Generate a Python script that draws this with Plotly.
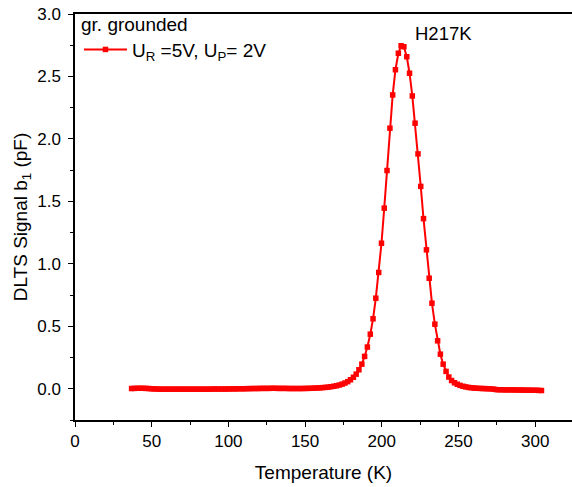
import plotly.graph_objects as go

temperature_K = [
    36.9, 38.7, 40.6, 42.4, 44.2, 46.1, 47.9, 49.7, 51.5, 53.4,
    55.2, 57.0, 58.9, 60.7, 62.5, 64.4, 66.2, 68.0, 69.8, 71.7,
    73.5, 75.3, 77.2, 79.0, 80.8, 82.7, 84.5, 86.3, 88.1, 90.0,
    91.8, 93.6, 95.5, 97.3, 99.1, 100.9, 102.8, 104.6, 106.4, 108.3,
    110.1, 111.9, 113.8, 115.6, 117.4, 119.3, 121.1, 122.9, 124.7, 126.6,
    128.4, 130.2, 132.1, 133.9, 135.7, 137.6, 139.4, 141.2, 143.0, 144.9,
    146.7, 148.5, 150.4, 152.2, 154.0, 155.9, 157.7, 159.5, 161.3, 163.2,
    165.0, 166.8, 168.7, 170.5, 172.3, 174.2, 176.0, 177.8, 179.6, 181.5,
    183.3, 185.1, 187.0, 188.8, 190.6, 192.5, 194.3, 196.1, 198.0, 199.8,
    201.6, 203.4, 205.3, 207.1, 208.9, 210.8, 212.6, 214.4, 216.3, 218.1,
    219.9, 221.7, 223.6, 225.4, 227.2, 229.1, 230.9, 232.7, 234.6, 236.4,
    238.2, 240.0, 241.9, 243.7, 245.5, 247.4, 249.2, 251.0, 252.9, 254.7,
    256.5, 258.3, 260.2, 262.0, 263.8, 265.7, 267.5, 269.3, 271.2, 273.0,
    274.8, 276.6, 278.5, 280.3, 282.1, 284.0, 285.8, 287.6, 289.5, 291.3,
    293.1, 294.9, 296.8, 298.6, 300.4, 302.3, 304.1,
]

signal_pF = [
    0.002, 0.003, 0.004, 0.004, 0.004, 0.003, 0.002, 0.000, -0.001, -0.002,
    -0.003, -0.003, -0.003, -0.003, -0.003, -0.003, -0.003, -0.003, -0.003, -0.003,
    -0.003, -0.003, -0.003, -0.003, -0.003, -0.003, -0.003, -0.003, -0.003, -0.002,
    -0.002, -0.002, -0.002, -0.002, -0.002, -0.001, -0.001, -0.001, 0.000, 0.000,
    0.000, 0.001, 0.001, 0.002, 0.002, 0.002, 0.003, 0.003, 0.003, 0.003,
    0.004, 0.004, 0.003, 0.003, 0.003, 0.003, 0.002, 0.002, 0.002, 0.002,
    0.002, 0.002, 0.003, 0.003, 0.004, 0.005, 0.006, 0.007, 0.009, 0.011,
    0.013, 0.016, 0.020, 0.024, 0.030, 0.037, 0.046, 0.057, 0.072, 0.092,
    0.117, 0.152, 0.197, 0.259, 0.334, 0.437, 0.560, 0.725, 0.931, 1.165,
    1.446, 1.747, 2.086, 2.352, 2.554, 2.686, 2.746, 2.738, 2.658, 2.526,
    2.344, 2.126, 1.880, 1.620, 1.362, 1.112, 0.885, 0.685, 0.517, 0.384,
    0.277, 0.197, 0.139, 0.094, 0.066, 0.048, 0.036, 0.027, 0.020, 0.015,
    0.011, 0.008, 0.006, 0.004, 0.003, 0.002, 0.001, 0.000, -0.001, -0.003,
    -0.007, -0.008, -0.008, -0.009, -0.009, -0.009, -0.009, -0.010, -0.010, -0.010,
    -0.011, -0.011, -0.011, -0.012, -0.012, -0.013, -0.014,
]

x_ticks = [0, 50, 100, 150, 200, 250, 300]
y_ticks = [0.0, 0.5, 1.0, 1.5, 2.0, 2.5, 3.0]

FONT = "Liberation Sans, Arial, sans-serif"

fig = go.Figure()
fig.add_trace(go.Scatter(
    x=temperature_K, y=signal_pF,
    mode="lines+markers",
    name="U<sub>R</sub> =5V, U<sub>P</sub>= 2V",
    line=dict(color="#FF0000", width=2),
    marker=dict(symbol="square", size=5.5, color="#FF0000"),
))

fig.add_annotation(
    x=220.5, y=2.84, xref="x", yref="y",
    text="H217K", showarrow=False, xanchor="left", yanchor="middle",
    font=dict(family=FONT, size=18.5, color="black"),
)

fig.update_layout(
    width=572, height=487,
    margin=dict(l=75, r=0, t=14, b=67),
    paper_bgcolor="white", plot_bgcolor="white",
    font=dict(family=FONT, color="black"),
    showlegend=True,
    legend=dict(
        x=0.008, y=1.02, xanchor="left", yanchor="top",
        bgcolor="rgba(0,0,0,0)", borderwidth=0,
        itemwidth=43,
        title=dict(text="gr. grounded", font=dict(family=FONT, size=19)),
        font=dict(family=FONT, size=19),
    ),
    xaxis=dict(
        range=[0, 324],
        tickvals=x_ticks, ticktext=[str(v) for v in x_ticks],
        ticks="outside", ticklen=5, tickwidth=1, tickcolor="black",
        minor=dict(ticks="outside", ticklen=3, dtick=25, tickcolor="black", showgrid=False),
        showline=True, linecolor="black", linewidth=1.5, mirror=True,
        showgrid=False, zeroline=False,
        tickfont=dict(family=FONT, size=17),
        title=dict(text="Temperature (K)", font=dict(family=FONT, size=19), standoff=16),
    ),
    yaxis=dict(
        range=[-0.25, 3.0],
        tickvals=y_ticks, ticktext=[f"{v:.1f}" for v in y_ticks],
        ticks="outside", ticklen=5, tickwidth=1, tickcolor="black",
        minor=dict(ticks="outside", ticklen=3, dtick=0.25, tick0=0, tickcolor="black", showgrid=False),
        showline=True, linecolor="black", linewidth=1.5,
        showgrid=False, zeroline=False,
        ticklabelstandoff=4,
        tickfont=dict(family=FONT, size=17),
        title=dict(text="DLTS Signal b<sub>1</sub> (pF)", font=dict(family=FONT, size=19), standoff=5),
    ),
)

fig.write_html("out.html")
